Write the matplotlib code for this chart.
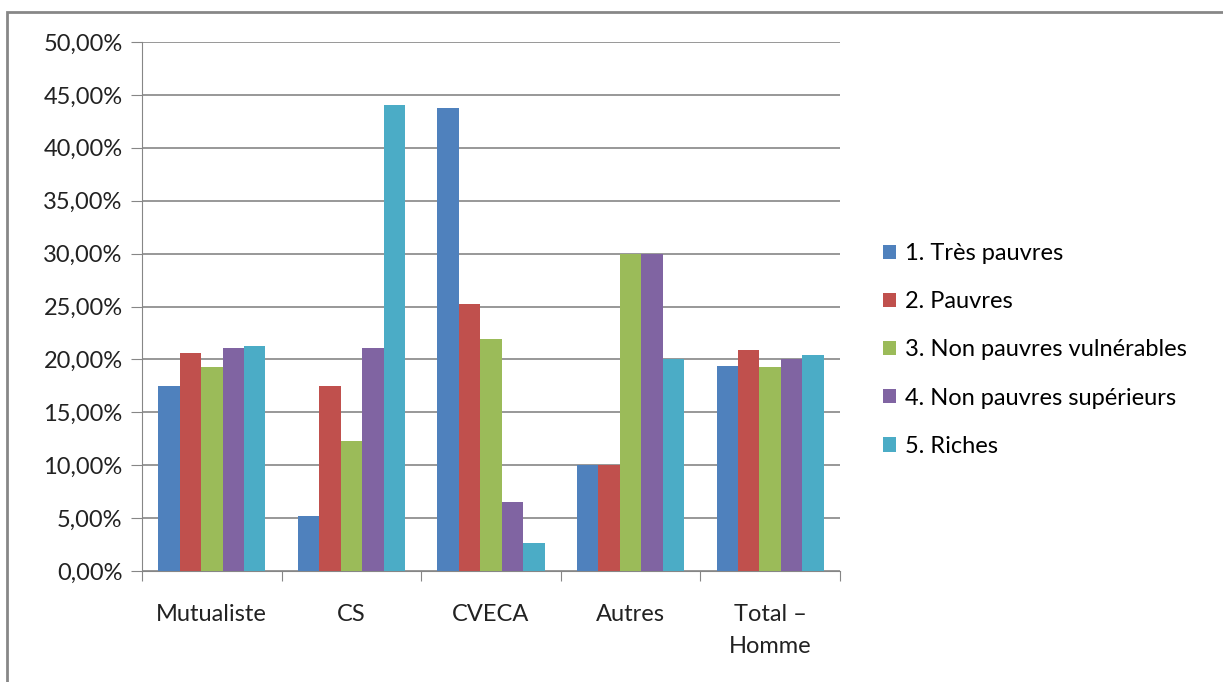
import numpy as np
import matplotlib.pyplot as plt
from matplotlib.patches import Rectangle
from matplotlib.ticker import FuncFormatter

plt.rcParams['font.family'] = ['Lato', 'DejaVu Sans']

categories = ['Mutualiste', 'CS', 'CVECA', 'Autres', 'Total –\nHomme']
series = ['1. Très pauvres', '2. Pauvres', '3. Non pauvres vulnérables',
          '4. Non pauvres supérieurs', '5. Riches']
tres_pauvres = [17.5, 5.2, 43.8, 10.0, 19.4]
pauvres = [20.6, 17.5, 25.2, 10.0, 20.9]
vulnerables = [19.3, 12.3, 21.9, 30.0, 19.3]
superieurs = [21.1, 21.1, 6.5, 30.0, 20.0]
riches = [21.3, 44.0, 2.6, 20.0, 20.4]
colors = ['#4F81BD', '#C0504D', '#9BBB59', '#8064A2', '#4BACC6']

values = [tres_pauvres, pauvres, vulnerables, superieurs, riches]
fs = 17

fig = plt.figure(figsize=(12.23, 6.82), dpi=100)
ax = fig.add_axes([142 / 1223, 1 - 571 / 682, (840 - 142) / 1223, (571 - 42) / 682])

# outer frame like the Excel chart area
fig.patches.append(Rectangle((7 / 1223, -0.01), 1.0, 1 - 12 / 682 + 0.01,
                             transform=fig.transFigure, fill=False,
                             edgecolor='#878787', linewidth=2))

x = np.arange(len(categories))
w = 1 / 6.5
for i, (name, vals) in enumerate(zip(series, values)):
    ax.bar(x - 2.5 * w + (i + 0.5) * w, vals, w, color=colors[i], label=name, zorder=3)

ax.set_xlim(-0.5, len(categories) - 0.5)
ax.set_ylim(0, 50)
ax.set_yticks(np.arange(0, 51, 5))
ax.yaxis.set_major_formatter(FuncFormatter(lambda v, p: f'{v:.2f}'.replace('.', ',') + '%'))
ax.grid(axis='y', color='#868686', linewidth=1.2, zorder=0)

ax.set_xticks(np.arange(-0.5, len(categories), 1))
ax.set_xticklabels([])
ax.set_xticks(x, minor=True)
ax.set_xticklabels(categories, minor=True, fontsize=fs, linespacing=1.6)
ax.tick_params(axis='x', which='minor', length=0, pad=24)
ax.tick_params(axis='x', which='major', length=7, color='#868686')
ax.tick_params(axis='y', length=8, color='#868686', labelsize=fs, pad=6)
for lab in ax.get_yticklabels() + ax.get_xticklabels(minor=True):
    lab.set_color('#222222')

for s in ['top', 'right']:
    ax.spines[s].set_visible(False)
for s in ['left', 'bottom']:
    ax.spines[s].set_color('#868686')

handles, labels = ax.get_legend_handles_labels()
fig.legend(handles, labels, loc='center left', bbox_to_anchor=(874 / 1223, 1 - 350 / 682),
           frameon=False, fontsize=fs, handlelength=0.55, handleheight=0.55,
           handletextpad=0.35, labelspacing=1.15, borderaxespad=0)

fig.savefig('out.png', dpi=100)
